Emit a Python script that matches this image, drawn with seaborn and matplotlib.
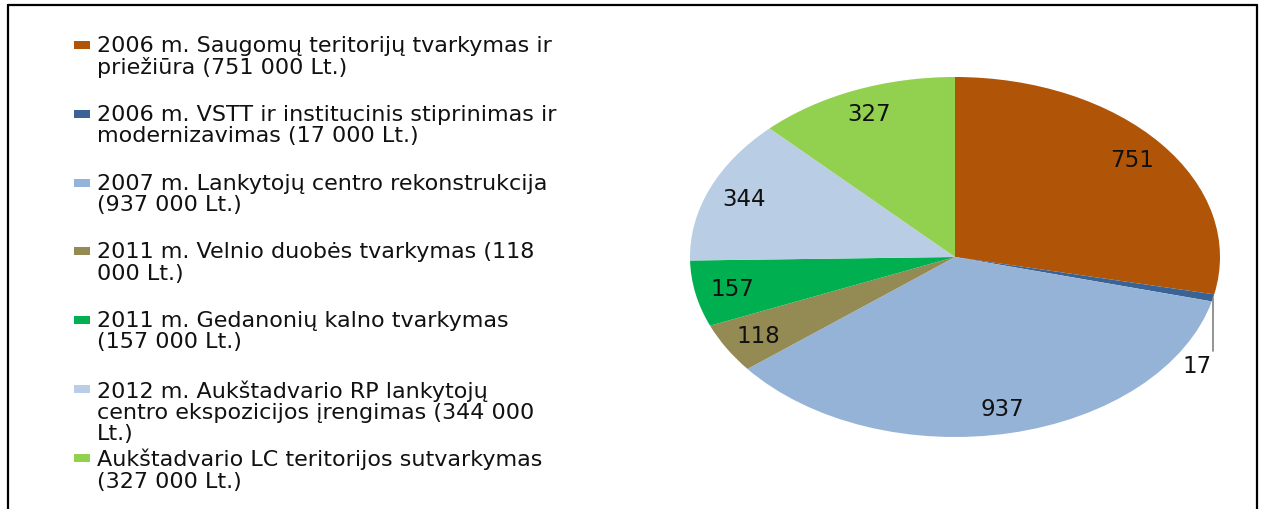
import numpy as np
import matplotlib
matplotlib.use("Agg")
import matplotlib.pyplot as plt
from matplotlib.patches import Rectangle
from matplotlib.lines import Line2D
import seaborn as sns

# data (thousand Lt.)
labels = [
    "2006 m. Saugomų teritorijų tvarkymas ir\npriežiūra (751 000 Lt.)",
    "2006 m. VSTT ir institucinis stiprinimas ir\nmodernizavimas (17 000 Lt.)",
    "2007 m. Lankytojų centro rekonstrukcija\n(937 000 Lt.)",
    "2011 m. Velnio duobės tvarkymas (118\n000 Lt.)",
    "2011 m. Gedanonių kalno tvarkymas\n(157 000 Lt.)",
    "2012 m. Aukštadvario RP lankytojų\ncentro ekspozicijos įrengimas (344 000\nLt.)",
    "Aukštadvario LC teritorijos sutvarkymas\n(327 000 Lt.)",
]
values = [751, 17, 937, 118, 157, 344, 327]
colors = ["#B05408", "#3A6395", "#95B3D7", "#948A54", "#00B050", "#B9CDE5", "#92D050"]

sns.set_theme(style="white")
plt.rcParams["font.family"] = ["DejaVu Sans"]

W, H = 1262, 510
fig = plt.figure(figsize=(W / 100, H / 100), dpi=100)


def fx(x):
    return x / W


def fy(y):
    return 1 - y / H


# pie drawn in an axes box shaped like the ellipse in the picture
ax = fig.add_axes([fx(690), fy(438), fx(1220) - fx(690), fy(78) - fy(438)])
palette = sns.color_palette(colors)
wedges, _ = ax.pie(values, colors=palette, startangle=90, counterclock=False,
                   wedgeprops=dict(linewidth=0))
ax.set_aspect("auto")
ax.set_xlim(-1, 1)
ax.set_ylim(-1, 1)
ax.axis("off")

for w, v in zip(wedges, values):
    mid = np.deg2rad((w.theta1 + w.theta2) / 2)
    if v < 50:
        x0, y0 = np.cos(mid), np.sin(mid)
        ax.plot([x0, x0], [y0, -0.52], color="#808080", lw=1.2, clip_on=False)
        ax.text(x0 - 0.005, -0.54, str(v), ha="right", va="top", fontsize=16.5,
                color="#111111")
        continue
    r = 0.86
    ax.text(r * np.cos(mid), r * np.sin(mid), str(v), ha="center", va="center",
            fontsize=16.5, color="#111111")

# legend, one slot per entry like the original
slot0, slot_step = 46, 68.8
for i, (lab, c) in enumerate(zip(labels, colors)):
    yc = slot0 + i * slot_step
    fig.patches.append(Rectangle((fx(74), fy(yc + 4)), fx(90) - fx(74), 8 / H,
                                 transform=fig.transFigure, color=c, lw=0))
    fig.text(fx(97), fy(yc - 10), lab, ha="left", va="top", fontsize=16,
             linespacing=1.08, color="#111111")

# outer frame (open at the bottom)
frame = dict(color="black", lw=1.6, transform=fig.transFigure)
fig.lines.append(Line2D([fx(8), fx(8)], [0, fy(6)], **frame))
fig.lines.append(Line2D([fx(8), fx(1257)], [fy(6), fy(6)], **frame))
fig.lines.append(Line2D([fx(1257), fx(1257)], [fy(6), 0], **frame))

fig.savefig("out.png", dpi=100, facecolor="white")
